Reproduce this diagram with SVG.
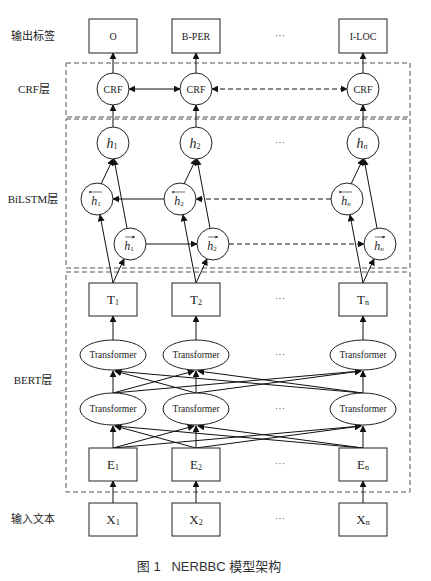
<svg xmlns="http://www.w3.org/2000/svg" width="431" height="581" viewBox="0 0 431 581">
<defs>
<marker id="ah" viewBox="0 0 10 10" refX="9" refY="5" markerWidth="7" markerHeight="7" markerUnits="userSpaceOnUse" orient="auto-start-reverse">
<path d="M0,0 L10,5 L0,10 z" fill="#111"/>
</marker>
<marker id="sa" viewBox="0 0 10 10" refX="9" refY="5" markerWidth="3" markerHeight="3" markerUnits="userSpaceOnUse" orient="auto">
<path d="M0,0 L10,5 L0,10 z" fill="#333"/>
</marker>
</defs>
<style>
.bx{fill:#fff;stroke:#222;stroke-width:1}
.lay{fill:none;stroke:#555;stroke-width:1;stroke-dasharray:5,3}
.c{fill:#fff;stroke:#222;stroke-width:1}
.t{font-family:"Liberation Serif","Noto Sans CJK SC",serif;fill:#222;text-anchor:middle;dominant-baseline:central}
.lab{font-family:"Liberation Serif","Noto Sans CJK SC",serif;fill:#222;font-size:11px;text-anchor:middle;dominant-baseline:central}
.ln{stroke:#111;stroke-width:1;fill:none;marker-end:url(#ah)}
.dl{stroke-dasharray:5,3}
.dots{font-family:"Liberation Serif",serif;font-size:10px;fill:#555;text-anchor:middle;dominant-baseline:central}
.ov{stroke:#333;stroke-width:0.7;fill:none;marker-end:url(#sa)}
.ovl{stroke:#333;stroke-width:0.7;fill:none;marker-start:url(#sa)}
</style>

<!-- layer frames -->
<g id="layers">
<rect class="lay" x="66" y="63" width="344" height="54"/>
<rect class="lay" x="66" y="119" width="344" height="149"/>
<rect class="lay" x="66" y="272" width="344" height="220"/>
</g>

<!-- left labels -->
<g id="labels">
<text class="lab" x="33" y="36">输出标签</text>
<text class="lab" x="34" y="89">CRF层</text>
<text class="lab" x="33" y="199">BiLSTM层</text>
<text class="lab" x="33" y="380">BERT层</text>
<text class="lab" x="33" y="519">输入文本</text>
</g>

<!-- connectors -->
<g id="connectors">
<!-- CRF to outputs -->
<line class="ln" x1="113" y1="73" x2="113" y2="53"/>
<line class="ln" x1="196" y1="73" x2="196" y2="53"/>
<line class="ln" x1="363" y1="73" x2="363" y2="53"/>
<!-- CRF chain -->
<line class="ln" style="marker-start:url(#ah)" x1="129" y1="89" x2="180" y2="89"/>
<line class="ln dl" style="marker-start:url(#ah)" x1="212" y1="89" x2="347" y2="89"/>
<!-- h to CRF -->
<line class="ln" x1="113" y1="127" x2="113" y2="105"/>
<line class="ln" x1="196" y1="127" x2="196" y2="105"/>
<line class="ln" x1="363" y1="127" x2="363" y2="105"/>
<!-- BiLSTM col1 -->
<line class="ln" x1="101" y1="184" x2="113" y2="159"/>
<line class="ln" x1="127" y1="228" x2="114" y2="159"/>
<line class="ln" x1="113" y1="283" x2="100" y2="215"/>
<line class="ln" x1="113" y1="283" x2="124" y2="259"/>
<!-- col2 -->
<line class="ln" x1="184" y1="184" x2="196" y2="159"/>
<line class="ln" x1="210" y1="228" x2="197" y2="159"/>
<line class="ln" x1="196" y1="283" x2="183" y2="215"/>
<line class="ln" x1="196" y1="283" x2="207" y2="259"/>
<!-- col3 -->
<line class="ln" x1="351" y1="184" x2="363" y2="159"/>
<line class="ln" x1="377" y1="228" x2="364" y2="159"/>
<line class="ln" x1="363" y1="283" x2="350" y2="215"/>
<line class="ln" x1="363" y1="283" x2="374" y2="259"/>
<!-- backward chain -->
<line class="ln" x1="164" y1="199" x2="113" y2="199"/>
<line class="ln dl" x1="331" y1="199" x2="196" y2="199"/>
<!-- forward chain -->
<line class="ln" x1="146" y1="244" x2="197" y2="244"/>
<line class="ln dl" x1="229" y1="244" x2="364" y2="244"/>
<!-- Transformer to T -->
<line class="ln" x1="113" y1="340" x2="113" y2="316"/>
<line class="ln" x1="196" y1="340" x2="196" y2="316"/>
<line class="ln" x1="363" y1="340" x2="363" y2="316"/>
<!-- lower transformer mesh -->
<line class="ln" x1="113" y1="393" x2="113" y2="371"/>
<line class="ln" x1="113" y1="393" x2="194" y2="371"/>
<line class="ln" x1="113" y1="393" x2="361" y2="371"/>
<line class="ln" x1="196" y1="393" x2="115" y2="371"/>
<line class="ln" x1="196" y1="393" x2="196" y2="371"/>
<line class="ln" x1="196" y1="393" x2="361" y2="371"/>
<line class="ln" x1="363" y1="393" x2="115" y2="371"/>
<line class="ln" x1="363" y1="393" x2="198" y2="371"/>
<line class="ln" x1="363" y1="393" x2="363" y2="371"/>
<!-- E mesh -->
<line class="ln" x1="113" y1="448" x2="113" y2="426"/>
<line class="ln" x1="113" y1="448" x2="194" y2="426"/>
<line class="ln" x1="113" y1="448" x2="361" y2="426"/>
<line class="ln" x1="196" y1="448" x2="115" y2="426"/>
<line class="ln" x1="196" y1="448" x2="196" y2="426"/>
<line class="ln" x1="196" y1="448" x2="361" y2="426"/>
<line class="ln" x1="363" y1="448" x2="115" y2="426"/>
<line class="ln" x1="363" y1="448" x2="198" y2="426"/>
<line class="ln" x1="363" y1="448" x2="363" y2="426"/>
<!-- X to E -->
<line class="ln" x1="113" y1="503" x2="113" y2="481"/>
<line class="ln" x1="196" y1="503" x2="196" y2="481"/>
<line class="ln" x1="363" y1="503" x2="363" y2="481"/>
</g>

<!-- output labels -->
<g id="out1"><rect class="bx" x="89" y="19" width="48" height="34"/><text class="t" x="113" y="36" font-size="10">O</text></g>
<g id="out2"><rect class="bx" x="172" y="19" width="48" height="34"/><text class="t" x="196" y="36" font-size="10">B-PER</text></g>
<g id="out3"><rect class="bx" x="339" y="19" width="48" height="34"/><text class="t" x="363" y="36" font-size="10">I-LOC</text></g>
<text class="dots" x="280" y="35">···</text>

<!-- CRF -->
<g id="crf1"><circle class="c" cx="113" cy="89" r="16"/><text class="t" x="113" y="89" font-size="10">CRF</text></g>
<g id="crf2"><circle class="c" cx="196" cy="89" r="16"/><text class="t" x="196" y="89" font-size="10">CRF</text></g>
<g id="crf3"><circle class="c" cx="363" cy="89" r="16"/><text class="t" x="363" y="89" font-size="10">CRF</text></g>

<!-- h -->
<g id="h1"><circle class="c" cx="113" cy="143" r="16"/><text class="t" x="112" y="143" font-size="14"><tspan font-style="italic">h</tspan><tspan font-size="8" dy="3">1</tspan></text></g>
<g id="h2"><circle class="c" cx="196" cy="143" r="16"/><text class="t" x="195" y="143" font-size="14"><tspan font-style="italic">h</tspan><tspan font-size="8" dy="3">2</tspan></text></g>
<g id="hn"><circle class="c" cx="363" cy="143" r="16"/><text class="t" x="362" y="143" font-size="14"><tspan font-style="italic">h</tspan><tspan font-size="8" font-style="italic" dy="3">n</tspan></text></g>
<text class="dots" x="280" y="142">···</text>

<!-- backward h -->
<g id="hb1"><circle class="c" cx="97" cy="199" r="16"/><text class="t" x="96" y="201" font-size="12"><tspan font-style="italic">h</tspan><tspan font-size="7" dy="3">1</tspan></text><line class="ovl" x1="92" y1="192" x2="102" y2="192"/></g>
<g id="hb2"><circle class="c" cx="180" cy="199" r="16"/><text class="t" x="179" y="201" font-size="12"><tspan font-style="italic">h</tspan><tspan font-size="7" dy="3">2</tspan></text><line class="ovl" x1="175" y1="192" x2="185" y2="192"/></g>
<g id="hbn"><circle class="c" cx="347" cy="199" r="16"/><text class="t" x="346" y="201" font-size="12"><tspan font-style="italic">h</tspan><tspan font-size="7" font-style="italic" dy="3">n</tspan></text><line class="ovl" x1="342" y1="192" x2="352" y2="192"/></g>

<!-- forward h -->
<g id="hf1"><circle class="c" cx="130" cy="244" r="16"/><text class="t" x="129" y="246" font-size="12"><tspan font-style="italic">h</tspan><tspan font-size="7" dy="3">1</tspan></text><line class="ov" x1="125" y1="237" x2="135" y2="237"/></g>
<g id="hf2"><circle class="c" cx="213" cy="244" r="16"/><text class="t" x="212" y="246" font-size="12"><tspan font-style="italic">h</tspan><tspan font-size="7" dy="3">2</tspan></text><line class="ov" x1="208" y1="237" x2="218" y2="237"/></g>
<g id="hfn"><circle class="c" cx="380" cy="244" r="16"/><text class="t" x="379" y="246" font-size="12"><tspan font-style="italic">h</tspan><tspan font-size="7" font-style="italic" dy="3">n</tspan></text><line class="ov" x1="375" y1="237" x2="385" y2="237"/></g>

<!-- T -->
<g id="t1"><rect class="bx" x="89" y="283" width="48" height="33"/><text class="t" x="113" y="299" font-size="13">T<tspan font-size="8" dy="3">1</tspan></text></g>
<g id="t2"><rect class="bx" x="172" y="283" width="48" height="33"/><text class="t" x="196" y="299" font-size="13">T<tspan font-size="8" dy="3">2</tspan></text></g>
<g id="tn"><rect class="bx" x="339" y="283" width="48" height="33"/><text class="t" x="363" y="299" font-size="13">T<tspan font-size="8" dy="3">n</tspan></text></g>
<text class="dots" x="280" y="298">···</text>

<!-- upper transformers -->
<g id="tu1"><ellipse class="c" cx="113" cy="355" rx="33" ry="15"/><text class="t" x="113" y="355" font-size="9.5">Transformer</text></g>
<g id="tu2"><ellipse class="c" cx="196" cy="355" rx="33" ry="15"/><text class="t" x="196" y="355" font-size="9.5">Transformer</text></g>
<g id="tu3"><ellipse class="c" cx="363" cy="355" rx="33" ry="15"/><text class="t" x="363" y="355" font-size="9.5">Transformer</text></g>
<text class="dots" x="280" y="354">···</text>

<!-- lower transformers -->
<g id="tl1"><ellipse class="c" cx="113" cy="409" rx="33" ry="16"/><text class="t" x="113" y="409" font-size="9.5">Transformer</text></g>
<g id="tl2"><ellipse class="c" cx="196" cy="409" rx="33" ry="16"/><text class="t" x="196" y="409" font-size="9.5">Transformer</text></g>
<g id="tl3"><ellipse class="c" cx="363" cy="409" rx="33" ry="16"/><text class="t" x="363" y="409" font-size="9.5">Transformer</text></g>
<text class="dots" x="280" y="408">···</text>

<!-- E -->
<g id="e1"><rect class="bx" x="89" y="448" width="48" height="33"/><text class="t" x="113" y="464" font-size="13">E<tspan font-size="8" dy="3">1</tspan></text></g>
<g id="e2"><rect class="bx" x="172" y="448" width="48" height="33"/><text class="t" x="196" y="464" font-size="13">E<tspan font-size="8" dy="3">2</tspan></text></g>
<g id="en"><rect class="bx" x="339" y="448" width="48" height="33"/><text class="t" x="363" y="464" font-size="13">E<tspan font-size="8" dy="3">n</tspan></text></g>
<text class="dots" x="280" y="463">···</text>

<!-- X -->
<g id="x1"><rect class="bx" x="89" y="503" width="48" height="33"/><text class="t" x="113" y="519" font-size="13">X<tspan font-size="8" dy="3">1</tspan></text></g>
<g id="x2"><rect class="bx" x="172" y="503" width="48" height="33"/><text class="t" x="196" y="519" font-size="13">X<tspan font-size="8" dy="3">2</tspan></text></g>
<g id="xn"><rect class="bx" x="339" y="503" width="48" height="33"/><text class="t" x="363" y="519" font-size="13">X<tspan font-size="8" dy="3">n</tspan></text></g>
<text class="dots" x="280" y="518">···</text>

<!-- caption -->
<text x="209" y="566" font-family="'Liberation Sans','Noto Sans CJK SC',sans-serif" font-size="13" fill="#333" text-anchor="middle" dominant-baseline="central" xml:space="preserve">图 1   NERBBC 模型架构</text>
</svg>
